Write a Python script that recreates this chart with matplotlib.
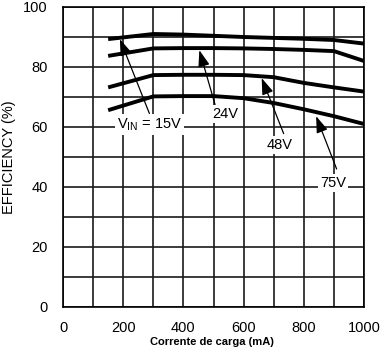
import matplotlib

matplotlib.use("Agg")
import matplotlib.pyplot as plt

plt.rcParams["font.family"] = ["Liberation Sans", "DejaVu Sans"]

# efficiency vs load current, one curve per input voltage
load_ma = [150, 300, 400, 500, 600, 700, 800, 900, 1000]
eff_15v = [89.3, 91.0, 90.8, 90.4, 90.0, 89.7, 89.4, 89.0, 87.8]
eff_24v = [83.7, 86.2, 86.3, 86.3, 86.2, 86.0, 85.7, 85.3, 82.0]
eff_48v = [73.2, 77.3, 77.4, 77.4, 77.3, 76.6, 74.7, 73.2, 71.8]
eff_75v = [65.6, 70.2, 70.3, 70.3, 69.6, 68.0, 65.9, 63.6, 61.0]

xticks = [0, 200, 400, 600, 800, 1000]
yticks = [0, 20, 40, 60, 80, 100]

# (label, text pos, arrow tail, arrow tip) in data units
labels = [
    (r"V$_{\mathregular{IN}}$ = 15V", (287, 60.8), (287, 64.5), (189, 89.3)),
    ("24V", (538, 64.3), (505, 67.5), (453, 85.6)),
    ("48V", (721, 54.0), (733, 57.8), (660, 76.3)),
    ("75V", (898, 41.4), (909, 46.0), (841, 63.6)),
]

fig = plt.figure(figsize=(3.81, 3.5), dpi=100)
ax = fig.add_axes([0.1654, 0.1229, 0.7900, 0.8571])

for eff in (eff_15v, eff_24v, eff_48v, eff_75v):
    ax.plot(load_ma, eff, color="black", lw=2.8, solid_capstyle="butt", zorder=3)

ax.set_xlim(0, 1000)
ax.set_ylim(0, 100)
ax.set_xticks(range(0, 1001, 100), minor=True)
ax.set_yticks(range(0, 101, 10), minor=True)
ax.set_xticks(xticks)
ax.set_yticks(yticks)
ax.grid(which="both", color="#1a1a1a", lw=1.2)
ax.tick_params(which="both", length=0, labelsize=10.5)
ax.tick_params(axis="x", pad=10)
ax.tick_params(axis="y", pad=11)
for s in ax.spines.values():
    s.set_linewidth(1.2)

for text, tpos, tail, tip in labels:
    ax.annotate("", xy=tip, xytext=tail,
                arrowprops=dict(arrowstyle="-|>,head_length=1.0,head_width=0.35",
                                color="black", lw=0.9, shrinkA=0, shrinkB=0),
                zorder=4)
    ax.text(tpos[0], tpos[1], text, ha="center", va="center", fontsize=10.5,
            bbox=dict(facecolor="white", edgecolor="none", pad=1.5), zorder=5)

fig.text(0.024, 0.55, "EFFICIENCY (%)", rotation=90, ha="center", va="center", fontsize=10.5)
fig.text(0.555, 0.022, "Corrente de carga (mA)", ha="center", va="center",
         fontsize=8, fontweight="bold")

fig.savefig("out.png", dpi=100)
